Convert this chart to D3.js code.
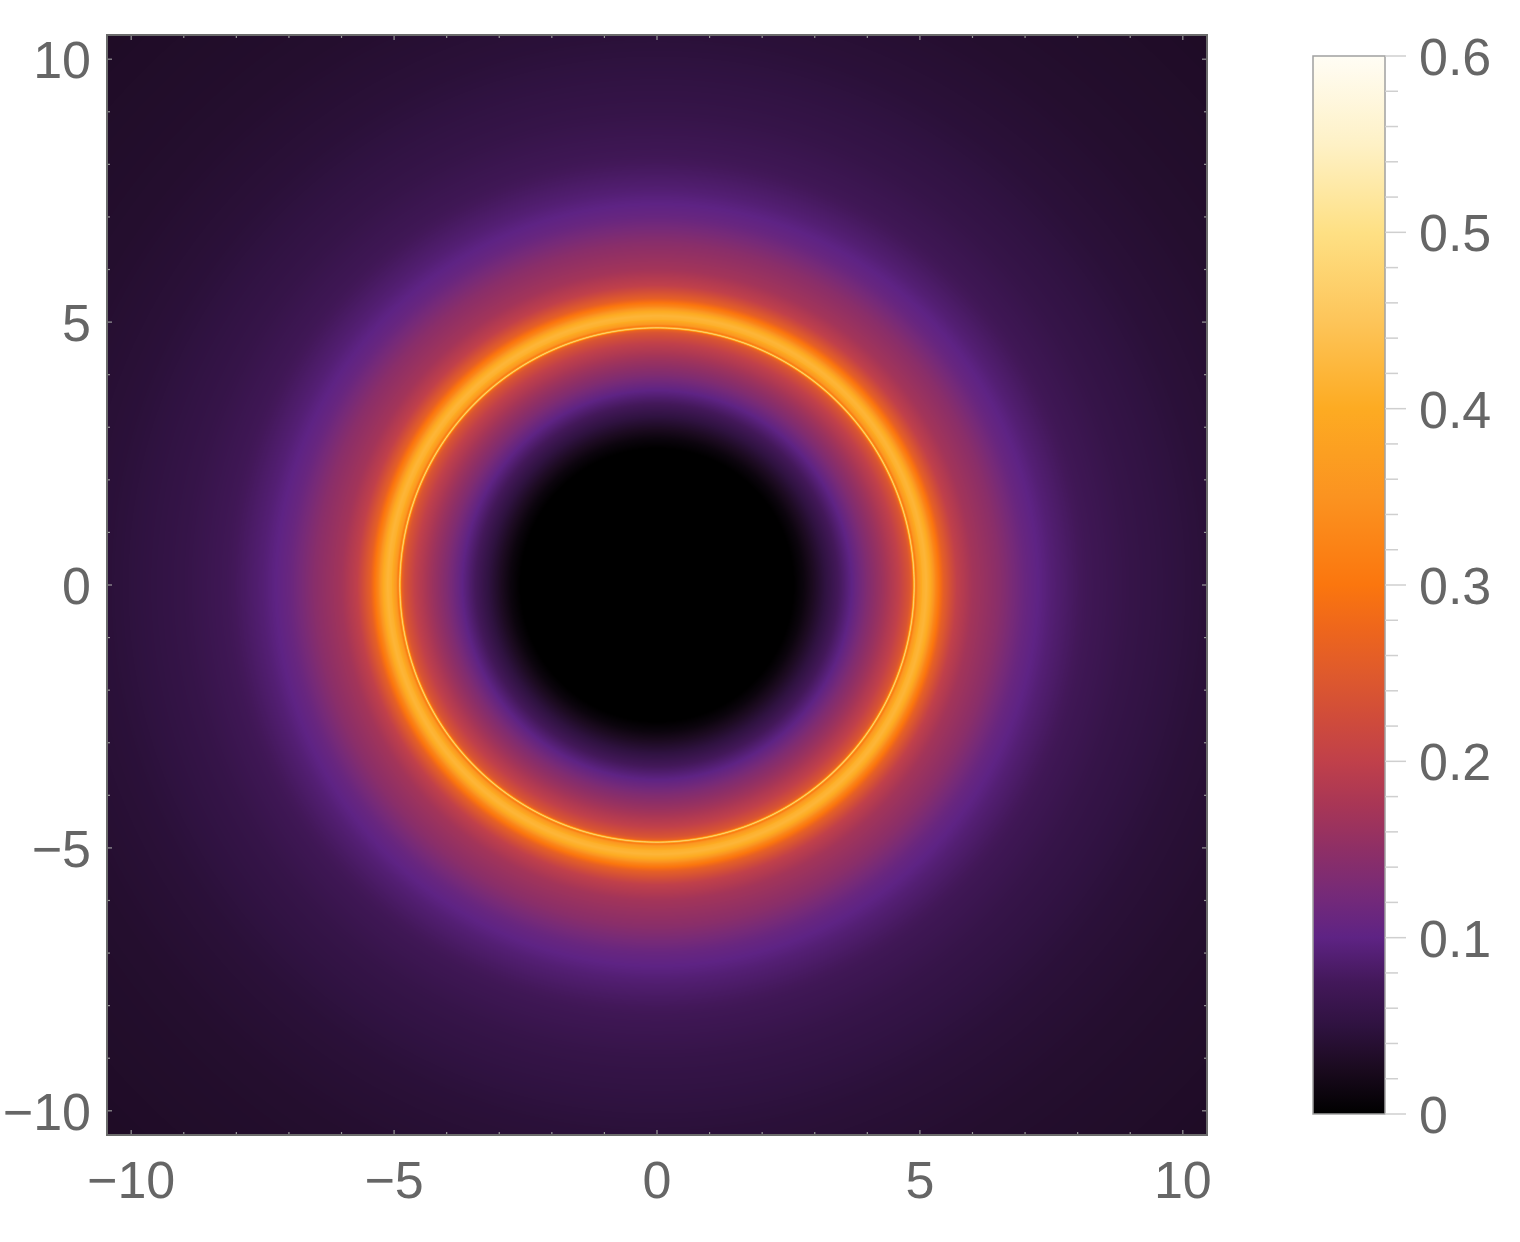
<!DOCTYPE html>
<html>
<head>
<meta charset="utf-8">
<script src="https://cdn.jsdelivr.net/npm/d3@7"></script>
<style>
  body { margin: 0; background: #fff; }
  text { font-family: "Liberation Sans", Arial, sans-serif; fill: #666; }
</style>
</head>
<body>
<script>
// radial intensity profile (r in plot units)
var radii     = [0, 2.6, 2.8, 3.0, 3.3, 3.7, 4.0, 4.3, 4.6, 4.8, 4.86, 4.89, 4.92, 4.96, 5.05, 5.12, 5.2, 5.3, 5.45, 5.7, 6.0, 6.5, 7.0, 7.5, 8.2, 9.0, 10.4, 12, 15];
var intensity = [0, 0, 0.012, 0.03, 0.06, 0.1, 0.135, 0.165, 0.2, 0.24, 0.27, 0.5, 0.3, 0.36, 0.41, 0.42, 0.4, 0.33, 0.26, 0.2, 0.17, 0.145, 0.11, 0.09, 0.07, 0.058, 0.045, 0.037, 0.03];

// colour bar stops
var colorValues = [0, 0.025, 0.05, 0.075, 0.1, 0.125, 0.15, 0.175, 0.2, 0.225, 0.25, 0.275, 0.3, 0.35, 0.4, 0.45, 0.5, 0.55, 0.6];
var colorStops  = ["#000000", "#1a0a1e", "#2f1240", "#43185a", "#5e2384", "#762a78", "#8e2f66", "#a83656", "#c0404a", "#d04c3a", "#df5a2c", "#ee661c", "#fb760e", "#fb9320", "#fdab22", "#fdc55a", "#fee084", "#fef1c6", "#fffdf5"];

var axisTicks = [-10, -5, 0, 5, 10];
var barTicks = [0, 0.1, 0.2, 0.3, 0.4, 0.5, 0.6];

var W = 1520, H = 1242;
var pL = 107, pR = 1207, pT = 35, pB = 1135;
var lim = 10.46;

var x = d3.scaleLinear().domain([-lim, lim]).range([pL, pR]);
var y = d3.scaleLinear().domain([-lim, lim]).range([pB, pT]);
var profile = d3.scaleLinear().domain(radii).range(intensity).clamp(true);
var color = d3.scaleLinear().domain(colorValues).range(colorStops).clamp(true);

var svg = d3.select("body").append("svg")
            .attr("width", W)
            .attr("height", H);

// density image
var n = pR - pL;
var canvas = document.createElement("canvas");
canvas.width = n; canvas.height = n;
var ctx = canvas.getContext("2d");
var img = ctx.createImageData(n, n);

// lookup tables built from the scales
var rStep = 0.002, rMax = 16;
var lut = new Float32Array(Math.ceil(rMax / rStep) + 1);
for (var k = 0; k < lut.length; k++) lut[k] = profile(k * rStep);
var cN = 1200;
var cLut = [];
for (var k = 0; k <= cN; k++) { var c = d3.rgb(color(0.6 * k / cN)); cLut.push([c.r, c.g, c.b]); }

var ss = 3;
for (var j = 0; j < n; j++) {
  for (var i = 0; i < n; i++) {
    var sum = 0;
    for (var sj = 0; sj < ss; sj++) {
      var py = y.invert(pT + j + (sj + 0.5) / ss);
      for (var si = 0; si < ss; si++) {
        var px = x.invert(pL + i + (si + 0.5) / ss);
        var r = Math.sqrt(px * px + py * py);
        sum += lut[Math.min(lut.length - 1, Math.round(r / rStep))];
      }
    }
    var v = sum / (ss * ss);
    var c = cLut[Math.max(0, Math.min(cN, Math.round(v / 0.6 * cN)))];
    var o = (j * n + i) * 4;
    img.data[o] = c[0]; img.data[o + 1] = c[1]; img.data[o + 2] = c[2]; img.data[o + 3] = 255;
  }
}
ctx.putImageData(img, 0, 0);

svg.append("image")
   .attr("x", pL).attr("y", pT)
   .attr("width", n).attr("height", n)
   .attr("href", canvas.toDataURL());

// frame ticks (inward), minor every 1, major every 5
var minor = d3.range(-10, 11);
function tickLen(d) { return d % 5 === 0 ? 5 : 3; }
var tg = svg.append("g").attr("stroke", "#9a9a9a").attr("stroke-width", 1.2);
tg.selectAll("line.b").data(minor).enter().append("line")
  .attr("x1", function(d){ return x(d); }).attr("x2", function(d){ return x(d); })
  .attr("y1", pB).attr("y2", function(d){ return pB - tickLen(d); });
tg.selectAll("line.t").data(minor).enter().append("line")
  .attr("x1", function(d){ return x(d); }).attr("x2", function(d){ return x(d); })
  .attr("y1", pT).attr("y2", function(d){ return pT + tickLen(d); });
tg.selectAll("line.l").data(minor).enter().append("line")
  .attr("y1", function(d){ return y(d); }).attr("y2", function(d){ return y(d); })
  .attr("x1", pL).attr("x2", function(d){ return pL + tickLen(d); });
tg.selectAll("line.r").data(minor).enter().append("line")
  .attr("y1", function(d){ return y(d); }).attr("y2", function(d){ return y(d); })
  .attr("x1", pR).attr("x2", function(d){ return pR - tickLen(d); });

svg.append("rect")
   .attr("x", pL).attr("y", pT)
   .attr("width", n).attr("height", pB - pT)
   .attr("fill", "none").attr("stroke", "#6b6b6b").attr("stroke-width", 2);

function fmt(d) { return d < 0 ? "\u2212" + (-d) : String(d); }

svg.selectAll("text.xl").data(axisTicks).enter().append("text")
   .attr("class", "xl")
   .attr("x", function(d){ return x(d); })
   .attr("y", 1198)
   .attr("text-anchor", "middle")
   .attr("font-size", 52)
   .text(fmt);

svg.selectAll("text.yl").data(axisTicks).enter().append("text")
   .attr("class", "yl")
   .attr("x", 91)
   .attr("y", function(d){ return y(d) + 19; })
   .attr("text-anchor", "end")
   .attr("font-size", 52)
   .text(fmt);

// colour bar
var cbX = 1313, cbW = 72, cbTop = 56, cbBottom = 1114;
var cy = d3.scaleLinear().domain([0, 0.6]).range([cbBottom, cbTop]);
var defs = svg.append("defs");
var grad = defs.append("linearGradient").attr("id", "cbar")
   .attr("x1", 0).attr("y1", 1).attr("x2", 0).attr("y2", 0);
grad.selectAll("stop").data(colorValues).enter().append("stop")
   .attr("offset", function(d){ return d / 0.6; })
   .attr("stop-color", function(d, i){ return colorStops[i]; });

svg.append("rect")
   .attr("x", cbX).attr("y", cbTop)
   .attr("width", cbW).attr("height", cbBottom - cbTop)
   .attr("fill", "url(#cbar)")
   .attr("stroke", "#a0a0a0").attr("stroke-width", 1.5);

var barMinor = d3.range(0, 31).map(function(k){ return k * 0.02; });
svg.append("g").attr("stroke", "#cfcfcf").attr("stroke-width", 1.5)
   .selectAll("line").data(barMinor).enter().append("line")
   .attr("x1", cbX + cbW)
   .attr("x2", function(d, i){ return cbX + cbW + (i % 5 === 0 ? 21 : 13); })
   .attr("y1", function(d){ return cy(d); })
   .attr("y2", function(d){ return cy(d); });

svg.selectAll("text.cl").data(barTicks).enter().append("text")
   .attr("class", "cl")
   .attr("x", 1419)
   .attr("y", function(d){ return cy(d) + 19; })
   .attr("font-size", 52)
   .text(function(d){ return d === 0 ? "0" : d.toFixed(1); });
</script>
</body>
</html>
